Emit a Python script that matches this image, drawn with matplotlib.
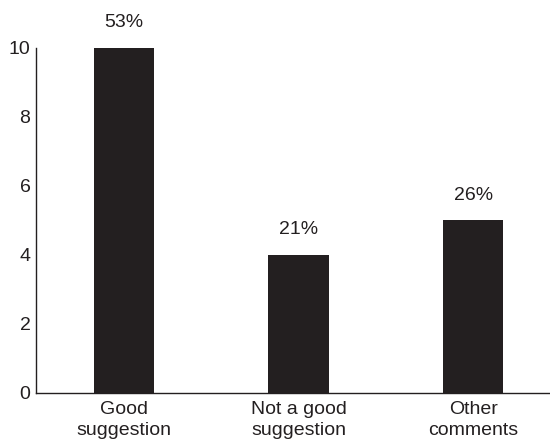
import matplotlib
matplotlib.use('Agg')
import matplotlib.pyplot as plt

categories = ['Good\nsuggestion', 'Not a good\nsuggestion', 'Other\ncomments']
counts = [10, 4, 5]
pct_labels = ['53%', '21%', '26%']

plt.rcParams['font.family'] = ['Liberation Sans', 'DejaVu Sans']

fig = plt.figure(figsize=(5.5, 4.45), dpi=100)
ax = fig.add_axes([0.0655, 0.1169, 0.9345, 0.7753])

x = range(len(categories))
bars = ax.bar(x, counts, width=0.345, color='#231f20')

for b, lab in zip(bars, pct_labels):
    ax.text(b.get_x() + b.get_width() / 2, b.get_height() + 0.73, lab,
            ha='center', va='center', fontsize=14, color='#231f20', clip_on=False)

ax.set_xlim(-0.504, 2.44)
ax.set_ylim(0, 10)
ax.set_yticks([0, 2, 4, 6, 8, 10])
ax.set_xticks(list(x))
ax.set_xticklabels(categories, fontsize=14, color='#231f20', linespacing=1.25)
ax.tick_params(axis='both', length=0, labelsize=14, colors='#231f20')
ax.tick_params(axis='x', pad=6)
ax.tick_params(axis='y', pad=4)

for s in ['top', 'right']:
    ax.spines[s].set_visible(False)
for s in ['left', 'bottom']:
    ax.spines[s].set_color('#231f20')
    ax.spines[s].set_linewidth(1.0)

fig.savefig('out.png', dpi=100)
